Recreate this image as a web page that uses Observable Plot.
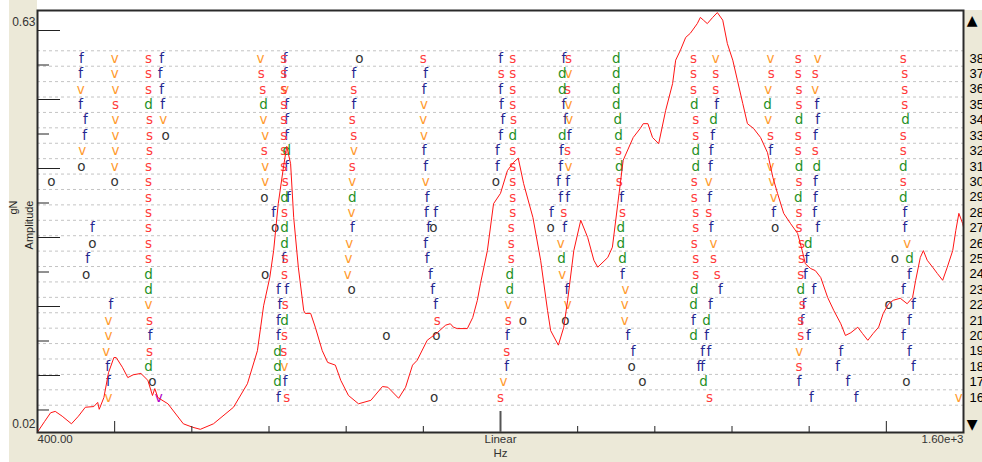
<!DOCTYPE html>
<html><head><meta charset="utf-8">
<script src="https://cdn.jsdelivr.net/npm/d3@7"></script>
<script src="https://cdn.jsdelivr.net/npm/@observablehq/plot@0.6"></script>
<style>
body{margin:0;background:#fff;}
#wrap{position:relative;width:982px;height:462px;overflow:hidden;}
.panel{position:absolute;background:#ECE9D8;}
#wrap svg{position:absolute;left:0;top:0;}
</style></head><body>
<div id="wrap">
<div class="panel" style="left:9px;top:0;width:28px;height:462px"></div>
<div class="panel" style="left:9px;top:433px;width:973px;height:29px"></div>
<div class="panel" style="left:964px;top:10px;width:18px;height:452px"></div>
</div>
<script>
// ---- spectrum line (Hz, amplitude gN) ----
const freqHz = [400,409,417,423,432,444,453,462,473,478,480,486,492,499,502,510,517,524,534,543,549,552,556,569,589,601,611,628,654,672,685,693,701,706,712,719,723,728,732,738,745,747,754,760,769,776,786,793,803,816,832,847,854,868,877,886,892,905,918,929,935,939,944,957,964,970,974,983,991,1000,1009,1017,1023,1030,1042,1052,1061,1065,1075,1082,1087,1095,1104,1113,1121,1126,1139,1145,1152,1159,1172,1181,1185,1191,1197,1205,1214,1223,1227,1233,1240,1246,1255,1259,1263,1268,1275,1281,1288,1294,1301,1307,1314,1320,1328,1337,1346,1353,1359,1367,1376,1385,1391,1395,1402,1408,1415,1424,1432,1441,1447,1454,1463,1469,1476,1483,1490,1496,1503,1509,1518,1527,1534,1538,1544,1548,1553,1560,1566,1573,1579,1586,1590,1594,1599,1600];
const amplitude = [0.018,0.033,0.046,0.048,0.041,0.030,0.041,0.054,0.055,0.061,0.051,0.068,0.104,0.126,0.126,0.112,0.097,0.101,0.103,0.093,0.071,0.081,0.068,0.059,0.030,0.025,0.022,0.030,0.054,0.088,0.136,0.201,0.242,0.281,0.349,0.404,0.432,0.407,0.329,0.257,0.194,0.190,0.190,0.170,0.136,0.119,0.115,0.093,0.071,0.059,0.064,0.084,0.083,0.067,0.083,0.115,0.122,0.151,0.162,0.173,0.175,0.170,0.168,0.168,0.184,0.209,0.233,0.281,0.349,0.364,0.397,0.409,0.415,0.378,0.329,0.267,0.194,0.165,0.144,0.170,0.209,0.281,0.325,0.300,0.267,0.257,0.271,0.286,0.349,0.412,0.445,0.458,0.465,0.465,0.445,0.436,0.484,0.523,0.557,0.571,0.590,0.596,0.610,0.619,0.615,0.610,0.619,0.626,0.615,0.581,0.557,0.528,0.494,0.465,0.458,0.445,0.423,0.387,0.364,0.335,0.320,0.306,0.281,0.262,0.255,0.252,0.242,0.213,0.194,0.175,0.158,0.162,0.170,0.161,0.151,0.161,0.170,0.190,0.204,0.209,0.212,0.204,0.213,0.238,0.271,0.281,0.267,0.257,0.248,0.238,0.257,0.281,0.310,0.335,0.320,0.315];

// ---- letter marks: [row, Hz] ----
const fMarks = [
[38,457],[38,561],[38,721],[38,1000],[38,1082],
[37,456],[37,559],[37,721],[37,810],[37,903],
[36,561],[36,901],[36,1000],
[35,456],[35,562],[35,723],[35,810],[35,1001],[35,1082],[35,1280],[35,1410],
[34,462],[34,723],[34,1003],[34,1084],[34,1411],
[33,461],[33,723],[33,1000],[33,1089],[33,1275],[33,1408],
[32,901],[32,996],[32,1079],[32,1273],[32,1350],
[31,723],[31,903],[31,996],[31,1078],[31,1272],
[30,1075],[30,1087],[30,1408],
[29,725],[29,905],[29,1078],[29,1087],[29,1157],[29,1271],[29,1408],
[28,706],[28,904],[28,916],[28,1066],[28,1354],[28,1407],[28,1524],
[27,471],[27,808],[27,907],[27,1083],[27,1273],[27,1411],[27,1524],
[26,903],
[25,465],[25,719],[25,905],[25,1397],
[24,909],[24,1158],[24,1395],[24,1530],
[23,712],[23,723],[23,912],[23,1086],[23,1285],[23,1406],[23,1522],
[22,495],[22,714],[22,916],[22,1272],[22,1393],[22,1535],
[21,712],[21,1250],[21,1391],[21,1530],
[20,546],[20,712],[20,1009],[20,1165],[20,1267],[20,1399],[20,1522],
[19,1172],[19,1262],[19,1270],[19,1441],[19,1530],
[18,491],[18,1008],[18,1257],[18,1262],[18,1437],[18,1535],
[17,492],[17,721],[17,1387],[17,1450],
[16,712],[16,1403],[16,1461]
];
const vMarks = [
[38,500],[38,689],[38,1279],[38,1350],[38,1411],
[37,500],[37,1088],
[36,456],[36,501],[36,721],[36,1347],[36,1408],
[35,901],[35,1088],
[34,501],[34,563],[34,693],[34,900],[34,1089],[34,1347],
[33,501],[33,695],[33,901],
[32,458],[32,501],[32,810],
[31,500],[31,695],[31,1088],[31,1350],
[30,695],[30,808],[30,903],[30,1270],[30,1352],
[29,1354],
[28,807],
[26,804],[26,1078],[26,1276],[26,1527],
[25,803],
[24,802],[24,1080],
[23,1162],
[22,544],[22,1010],[22,1087],[22,1161],
[21,492],[21,1161],
[20,492],
[19,489],[19,1387],
[18,720],
[17,1004],
[16,492],[16,1594]
];
const vPurpleMarks = [[16,557]];
const sMarks = [
[38,544],[38,719],[38,900],[38,1016],[38,1088],[38,1250],[38,1386],[38,1522],
[37,544],[37,690],[37,719],[37,1001],[37,1016],[37,1250],[37,1279],[37,1351],[37,1386],[37,1408],[37,1524],
[36,544],[36,692],[36,719],[36,810],[36,1016],[36,1087],[36,1250],[36,1279],[36,1387],[36,1524],
[35,501],[35,719],[35,1016],[35,1387],[35,1524],
[34,545],[34,719],[34,808],[34,1017],[34,1253],
[33,545],[33,719],[33,810],[33,1253],[33,1350],[33,1386],[33,1522],
[32,545],[32,694],[32,719],[32,1016],[32,1087],[32,1153],[32,1386],[32,1408],[32,1522],
[31,544],[31,719],[31,808],[31,1016],
[30,544],[30,721],[30,1016],[30,1154],[30,1251],[30,1387],[30,1522],
[29,544],[29,1016],[29,1251],
[28,544],[28,720],[28,1016],[28,1082],[28,1158],[28,1253],[28,1270],[28,1387],
[27,544],[27,1014],[27,1253],[27,1387],
[26,544],[26,1014],[26,1251],[26,1390],
[25,544],[25,721],[25,1014],[25,1253],[25,1276],[25,1390],
[24,720],[24,1253],[24,1281],[24,1389],
[22,721],[22,1391],
[21,545],[21,918],[21,1010],[21,1389],
[20,720],[20,1389],
[19,545],[19,719],[19,1008],
[18,1387],
[16,723],[16,1000],[16,1271]
];
const dMarks = [
[38,1150],
[37,1080],[37,1150],
[36,1080],[36,1150],
[35,544],[35,693],[35,1150],[35,1251],[35,1346],
[34,1152],[34,1276],[34,1387],[34,1525],
[33,1016],[33,1080],[33,1153],
[32,723],[32,1253],
[31,1154],[31,1253],[31,1387],[31,1410],[31,1522],
[29,720],[29,808],[29,1386],[29,1522],
[27,720],[27,1156],
[26,720],[26,1156],[26,1399],
[25,1079],[25,1158],[25,1530],
[24,544],[24,1012],
[23,544],[23,1012],[23,1251],[23,1389],
[22,1250],
[21,720],[21,1267],
[20,1250],
[19,711],
[18,544],[18,711],
[17,711],[17,1263]
];
const oMarks = [
[38,817],[33,566],[31,457],
[30,418],[30,500],[30,994],
[29,694],
[27,708],[27,913],[27,1065],[27,1356],
[26,471],
[25,1511],
[24,463],[24,695],
[23,807],
[22,1503],
[21,1029],[21,1084],
[20,852],[20,917],
[18,1170],
[17,549],[17,1184],[17,1526],
[16,914]
];

// ---- ticks and labels ----
const rowLabels = d3.range(16, 39);
const yMajorTicks = [0.1,0.2,0.3,0.4,0.5,0.6];
const yMinorTicks = [0.05,0.15,0.25,0.35,0.45,0.55];
const xMinorTicks = [600,700,800,900,1100,1200,1300,1400];
const xMidTicks = [500,1500];
const xMajorTicks = [1000];

const W = 982, H = 462, mL = 37, mR = 19, mT = 10, mB = 30;
const letterFont = "DejaVu Sans, Verdana, sans-serif";
const axisFont = "Liberation Sans, Arial, sans-serif";

const toObj = ([row, hz]) => ({row, hz});
const gridRows = rowLabels.map(r => r - 0.5).concat([38.5]);

function letterMark(arr, ch, color) {
  return Plot.text(arr.map(toObj), {x: "hz", y: "row", text: () => ch, fill: color,
    fontSize: 13.5, fontFamily: letterFont});
}

const rowChart = Plot.plot({
  width: W, height: H, marginLeft: mL, marginRight: mR, marginTop: mT, marginBottom: mB,
  style: {background: "transparent", overflow: "visible"},
  x: {domain: [400, 1600], axis: null},
  y: {domain: [13.729, 41.115]},
  marks: [
    Plot.frame({fill: "white", stroke: null}),
    Plot.ruleY(gridRows, {y: d => d, stroke: "#c4c4c4", strokeDasharray: "3,3", strokeWidth: 1}),
    letterMark(fMarks, "f", "#25258f"),
    letterMark(vMarks, "v", "#ff9a2e"),
    letterMark(sMarks, "s", "#ff3a3a"),
    letterMark(dMarks, "d", "#1f901f"),
    letterMark(oMarks, "o", "#333333"),
    letterMark(vPurpleMarks, "v", "#b000c8"),
    Plot.axisY(rowLabels, {anchor: "right", tickSize: 0, tickPadding: 6, tickFormat: d => String(d),
      fontSize: 13, fontFamily: axisFont, color: "#000", label: null})
  ]
});

const linePoints = freqHz.map((hz, i) => ({hz, amp: amplitude[i]}));
const blank = () => "";
const lineChart = Plot.plot({
  width: W, height: H, marginLeft: mL, marginRight: mR, marginTop: mT, marginBottom: mB,
  style: {background: "transparent", overflow: "visible"},
  x: {domain: [400, 1600]},
  y: {domain: [0.01739, 0.629]},
  marks: [
    Plot.line(linePoints, {x: "hz", y: "amp", stroke: "#ff1414", strokeWidth: 1}),
    Plot.frame({stroke: "#2a2a2a", strokeWidth: 2}),
    Plot.axisY(yMajorTicks, {anchor: "left", tickSize: 23, dx: 23, tickFormat: blank, label: null, color: "#222"}),
    Plot.axisY(yMinorTicks, {anchor: "left", tickSize: 12, dx: 12, tickFormat: blank, label: null, color: "#222"}),
    Plot.axisX(xMinorTicks, {anchor: "bottom", tickSize: 6, dy: -6, tickFormat: blank, label: null, color: "#222"}),
    Plot.axisX(xMidTicks, {anchor: "bottom", tickSize: 11, dy: -11, tickFormat: blank, label: null, color: "#222"}),
    Plot.axisX(xMajorTicks, {anchor: "bottom", tickSize: 21, dy: -21, tickFormat: blank, label: null, color: "#555", strokeWidth: 2}),
    Plot.text(["0.63"], {text: d => d, frameAnchor: "top-left", textAnchor: "end", dx: -2, dy: 7, fontSize: 12, fontFamily: axisFont, fill: "#333"}),
    Plot.text(["0.02"], {text: d => d, frameAnchor: "bottom-left", textAnchor: "end", dx: -2, dy: -5, fontSize: 12, fontFamily: axisFont, fill: "#333"}),
    Plot.text(["400.00"], {text: d => d, frameAnchor: "bottom-left", textAnchor: "start", dy: 10, fontSize: 11.5, fontFamily: axisFont, fill: "#333"}),
    Plot.text(["1.60e+3"], {text: d => d, frameAnchor: "bottom-right", textAnchor: "end", dy: 10, fontSize: 11.5, fontFamily: axisFont, fill: "#333"}),
    Plot.text(["Linear"], {text: d => d, frameAnchor: "bottom", dy: 10, fontSize: 11.5, fontFamily: axisFont, fill: "#333"}),
    Plot.text(["Hz"], {text: d => d, frameAnchor: "bottom", dy: 24, fontSize: 11.5, fontFamily: axisFont, fill: "#333"}),
    Plot.text(["gN"], {text: d => d, frameAnchor: "left", rotate: -90, textAnchor: "end", dx: -24, dy: -21, fontSize: 11, fontFamily: axisFont, fill: "#222"}),
    Plot.text(["Amplitude"], {text: d => d, frameAnchor: "left", rotate: -90, textAnchor: "end", dx: -8, dy: -21, fontSize: 11, fontFamily: axisFont, fill: "#222"}),
    Plot.text(["▲"], {text: d => d, frameAnchor: "top-right", dx: 14, dy: 5, fontSize: 14, fontFamily: "DejaVu Sans", fill: "#000"}),
    Plot.text(["▼"], {text: d => d, frameAnchor: "bottom-right", dx: 14, dy: -4, fontSize: 14, fontFamily: "DejaVu Sans", fill: "#000"})
  ]
});

const wrap = document.getElementById("wrap");
wrap.appendChild(rowChart);
wrap.appendChild(lineChart);
</script>
</body></html>
